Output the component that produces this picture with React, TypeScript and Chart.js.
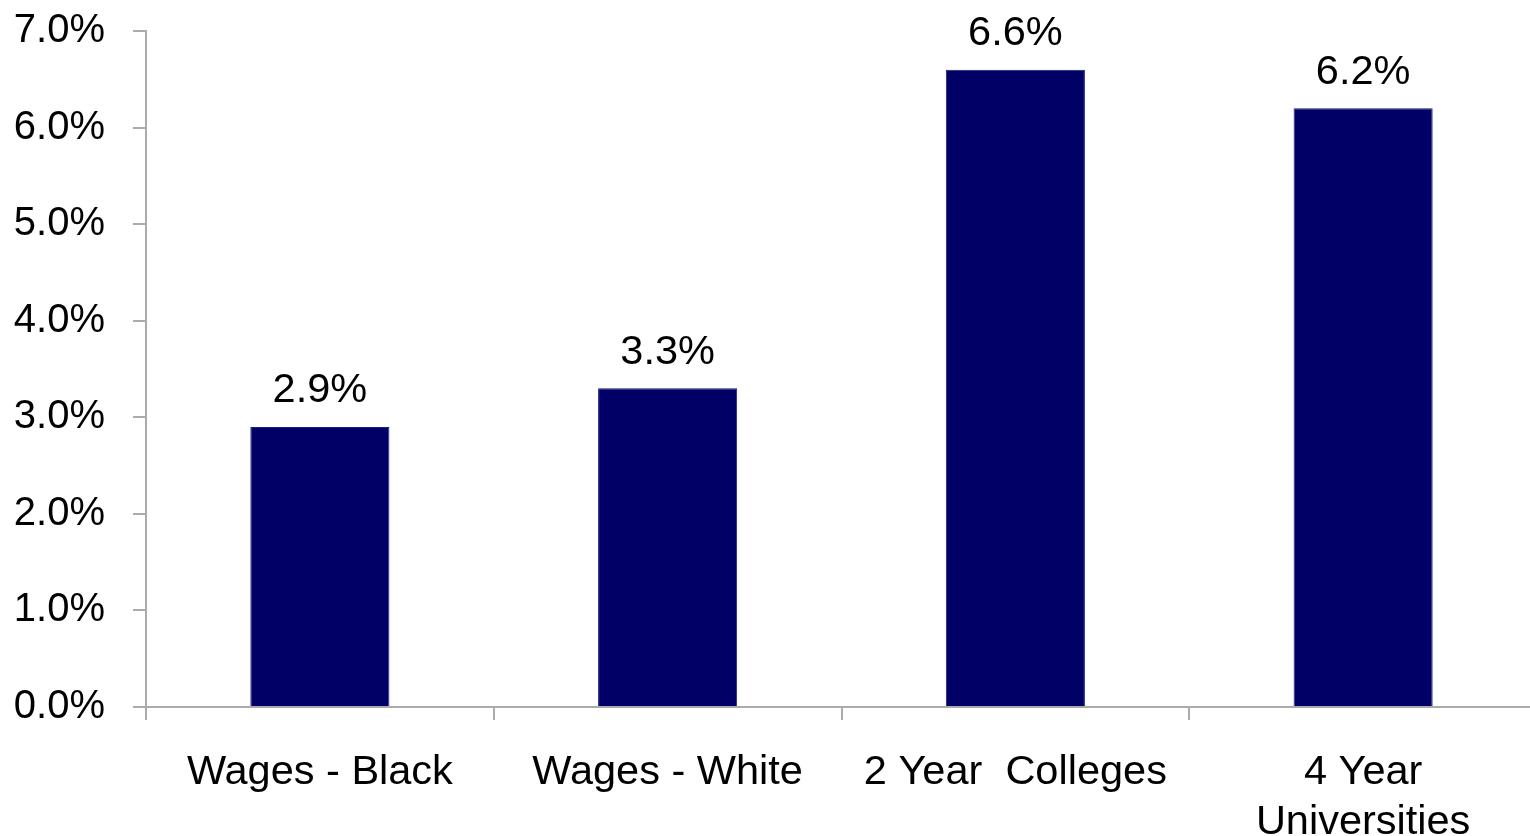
import React, { useEffect, useRef } from "react";
import { Chart, registerables } from "chart.js";

Chart.register(...registerables);

const categories: (string | string[])[] = [
  "Wages - Black",
  "Wages - White",
  "2 Year  Colleges",
  ["4 Year", "Universities"],
];
const values: number[] = [2.9, 3.3, 6.6, 6.2];
const yTicks: number[] = [0, 1, 2, 3, 4, 5, 6, 7];

const FONT = "'Liberation Sans', Arial, sans-serif";
const AXIS = "#ababab";

const valueLabels = {
  id: "valueLabels",
  afterDatasetsDraw(chart: any) {
    const ctx = chart.ctx;
    const meta = chart.getDatasetMeta(0);
    ctx.save();
    ctx.font = `41.5px ${FONT}`;
    ctx.fillStyle = "#000";
    ctx.textAlign = "center";
    ctx.textBaseline = "middle";
    meta.data.forEach((bar: any, i: number) => {
      const v = chart.data.datasets[0].data[i] as number;
      ctx.fillText(v.toFixed(1) + "%", bar.x, bar.y - 36);
    });
    ctx.restore();
  },
};

export default function App() {
  const ref = useRef<HTMLCanvasElement | null>(null);
  useEffect(() => {
    if (!ref.current) return;
    const chart = new Chart(ref.current, {
      type: "bar",
      data: {
        labels: categories,
        datasets: [
          {
            data: values,
            backgroundColor: "#000066",
            borderColor: "#1c1c80",
            borderWidth: 1,
            barPercentage: 0.4,
            categoryPercentage: 1,
          },
        ],
      },
      plugins: [valueLabels],
      options: {
        animation: false,
        responsive: false,
        maintainAspectRatio: false,
        devicePixelRatio: 1,
        layout: { padding: { top: 31, left: 0, right: 0, bottom: 0 } },
        plugins: {
          legend: { display: false },
          tooltip: { enabled: false },
        },
        scales: {
          x: {
            afterFit: (s: any) => {
              s.height = 129;
              s.paddingLeft = 0;
              s.paddingRight = 0;
            },
            grid: {
              offset: true,
              drawOnChartArea: false,
              drawTicks: true,
              tickLength: 13,
              color: AXIS,
              lineWidth: 2,
            },
            border: { display: true, color: AXIS, width: 2 },
            ticks: {
              color: "#000",
              font: { family: FONT, size: 41.5 },
              padding: 28,
              maxRotation: 0,
              autoSkip: false,
            },
          },
          y: {
            min: 0,
            max: 7,
            afterFit: (s: any) => {
              s.width = 146;
              s.paddingTop = 0;
              s.paddingBottom = 0;
            },
            afterBuildTicks: (s: any) => {
              s.ticks = yTicks.map((v) => ({ value: v }));
            },
            grid: {
              drawOnChartArea: false,
              drawTicks: true,
              tickLength: 13,
              color: AXIS,
              lineWidth: 2,
            },
            border: { display: true, color: AXIS, width: 2 },
            ticks: {
              color: "#000",
              font: { family: FONT, size: 40 },
              padding: 28,
              callback: (v: any) => Number(v).toFixed(1) + "%",
            },
          },
        },
      },
    });
    return () => chart.destroy();
  }, []);
  return (
    <div style={{ position: "fixed", left: 0, top: 0, width: 1537, height: 836, background: "#fff" }}>
      <canvas ref={ref} width={1537} height={836} style={{ display: "block", width: 1537, height: 836 }} />
    </div>
  );
}
